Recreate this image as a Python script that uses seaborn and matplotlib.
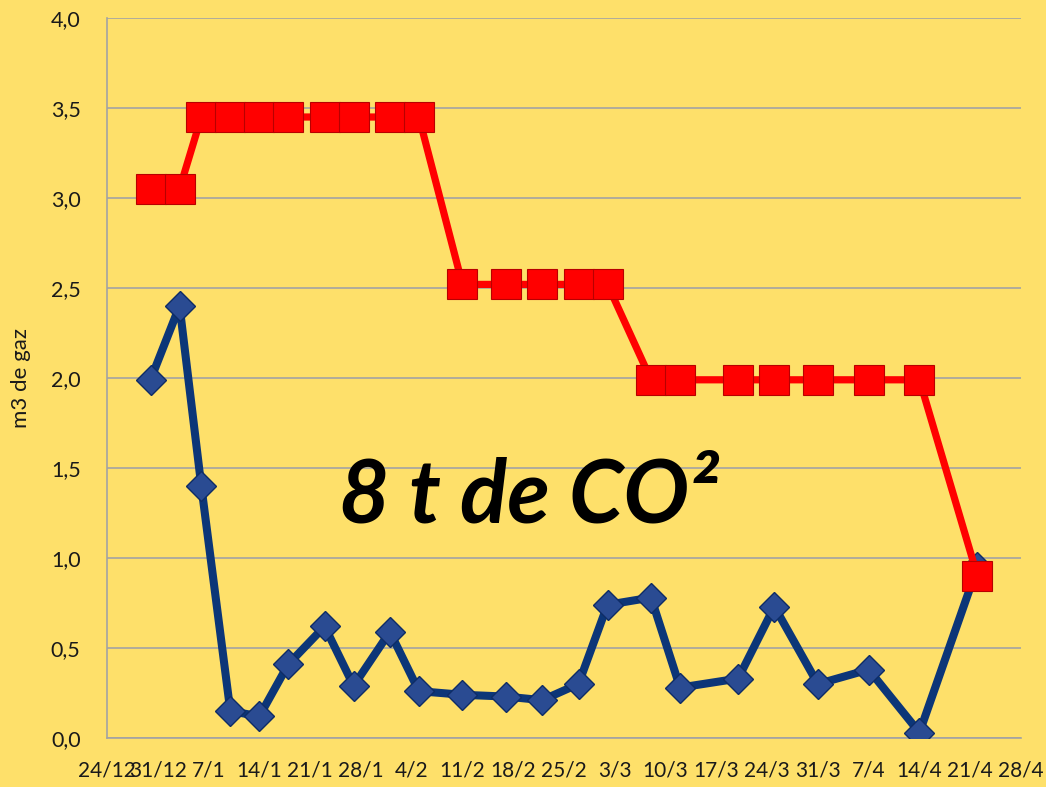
import matplotlib
matplotlib.use("Agg")
import matplotlib.pyplot as plt
import seaborn as sns
import pandas as pd

# Measurement dates (winter 2011-2012)
dates = [
    "2011-12-30", "2012-01-03", "2012-01-06", "2012-01-10", "2012-01-14",
    "2012-01-18", "2012-01-23", "2012-01-27", "2012-02-01", "2012-02-05",
    "2012-02-11", "2012-02-17", "2012-02-22", "2012-02-27", "2012-03-02",
    "2012-03-08", "2012-03-12", "2012-03-20", "2012-03-25", "2012-03-31",
    "2012-04-07", "2012-04-14", "2012-04-22",
]

# Daily gas consumption (m3)
gas_before = [
    3.05, 3.05, 3.45, 3.45, 3.45, 3.45, 3.45, 3.45, 3.45, 3.45,
    2.52, 2.52, 2.52, 2.52, 2.52,
    1.99, 1.99, 1.99, 1.99, 1.99, 1.99, 1.99,
    0.90,
]
gas_after = [
    1.99, 2.40, 1.40, 0.15, 0.12, 0.41, 0.62, 0.29, 0.59, 0.26,
    0.24, 0.23, 0.21, 0.30, 0.74, 0.78, 0.28, 0.33, 0.73, 0.30,
    0.38, 0.03, 0.95,
]

tick_labels = ["24/12", "31/12", "7/1", "14/1", "21/1", "28/1", "4/2", "11/2",
               "18/2", "25/2", "3/3", "10/3", "17/3", "24/3", "31/3", "7/4",
               "14/4", "21/4", "28/4"]
y_ticks = [0.0, 0.5, 1.0, 1.5, 2.0, 2.5, 3.0, 3.5, 4.0]

df = pd.DataFrame({
    "date": pd.to_datetime(dates),
    "avant": gas_before,
    "apres": gas_after,
})

BG = "#FEE06A"
GRID = "#A3A3A3"

sns.set_style("white")
plt.rcParams["font.family"] = ["Lato", "DejaVu Sans"]

fig = plt.figure(figsize=(10.46, 7.87), dpi=100, facecolor=BG)
ax = fig.add_axes([0.1023, 0.0623, 0.9761 - 0.1023, 0.9771 - 0.0623])
ax.set_facecolor(BG)

sns.lineplot(data=df, x="date", y="apres", ax=ax, sort=False,
             color="#0C3678", linewidth=5.8, marker="D", markersize=15,
             markerfacecolor="#2A4B92", markeredgecolor="#0E2C66",
             markeredgewidth=1.0, zorder=3)
sns.lineplot(data=df, x="date", y="avant", ax=ax, sort=False,
             color="#FF0000", linewidth=5.2, marker="s", markersize=21,
             markerfacecolor="#FF0000", markeredgecolor="#B80000",
             markeredgewidth=0.8, zorder=4)

# Axis ranges and weekly ticks
start = pd.Timestamp("2011-12-24")
tick_dates = pd.date_range(start, periods=len(tick_labels), freq="7D")
ax.set_xlim(tick_dates[0], tick_dates[-1])
ax.set_xticks(tick_dates)
ax.set_xticklabels(tick_labels, fontsize=15, color="#1A1A1A")

ax.set_ylim(0, 4.0)
ax.set_yticks(y_ticks)
ax.set_yticklabels([f"{v:.1f}".replace(".", ",") for v in y_ticks],
                   fontsize=15.5, color="#1A1A1A")

ax.set_xlabel("")
ax.set_ylabel("m3 de gaz", fontsize=16, color="#1A1A1A", labelpad=14)

ax.grid(axis="y", color=GRID, linewidth=1.2)
ax.grid(axis="x", visible=False)
ax.set_axisbelow(True)

for side in ("top", "right"):
    ax.spines[side].set_visible(False)
for side in ("left", "bottom"):
    ax.spines[side].set_color(GRID)
    ax.spines[side].set_linewidth(1.2)

ax.tick_params(axis="x", direction="out", length=6, width=1.2, color=GRID, pad=10)
ax.tick_params(axis="y", direction="out", length=7, width=1.2, color=GRID, pad=12)

ax.text(0.4617, 0.2986, "8 t de CO²", transform=ax.transAxes,
        ha="center", va="baseline", fontsize=63, fontweight="bold",
        fontstyle="italic", color="black", zorder=5)

fig.savefig("out.png", dpi=100, facecolor=BG)
